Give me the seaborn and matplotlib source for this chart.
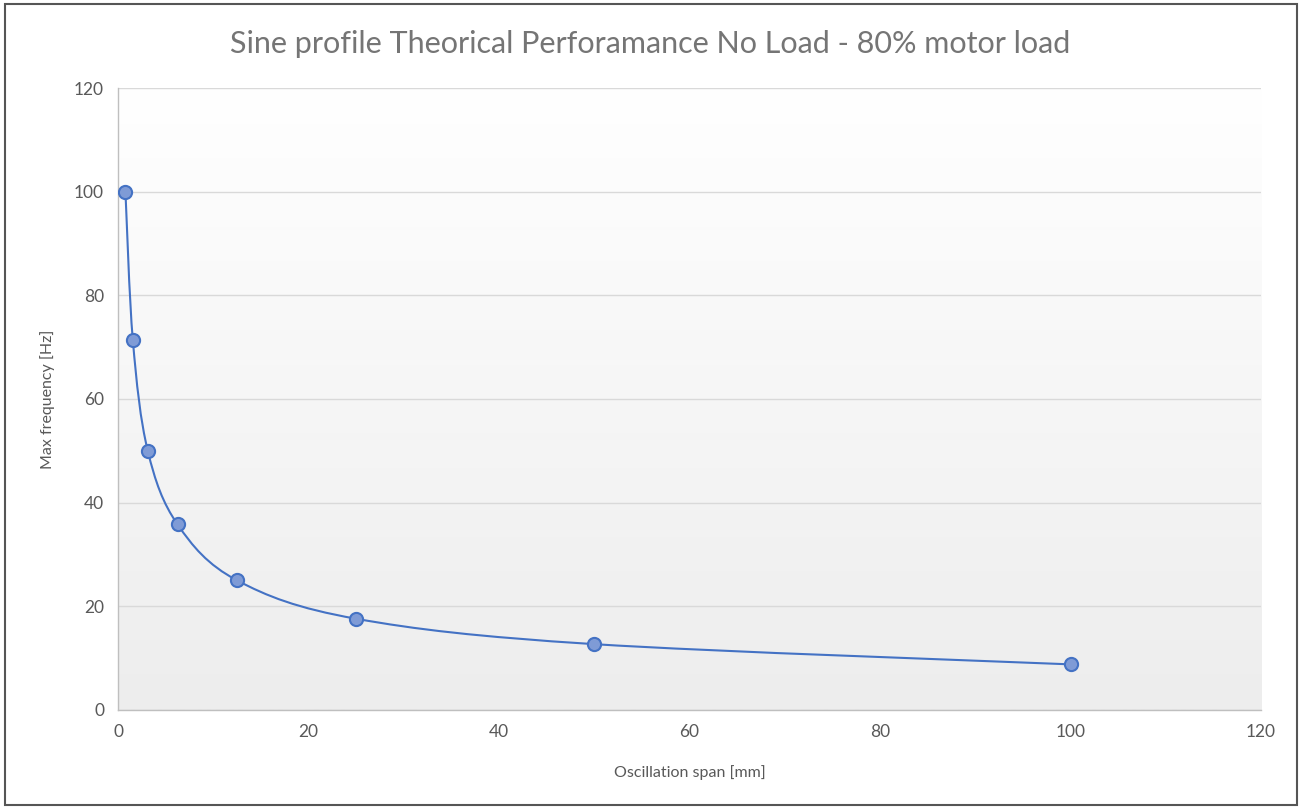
import numpy as np
import pandas as pd
import matplotlib
matplotlib.use("Agg")
import matplotlib.pyplot as plt
from matplotlib.path import Path
from matplotlib.patches import PathPatch, Rectangle
import seaborn as sns

# values
span_mm = [0.78, 1.56, 3.125, 6.25, 12.5, 25, 50, 100]
max_freq_hz = [100, 71.3, 50, 35.8, 25, 17.6, 12.7, 8.8]
xticks = [0, 20, 40, 60, 80, 100, 120]
yticks = [0, 20, 40, 60, 80, 100, 120]

df = pd.DataFrame({"span": span_mm, "freq": max_freq_hz})

sns.set_style("white")
plt.rcParams["font.family"] = ["Lato", "DejaVu Sans"]

blue = "#4472C4"
grey_txt = "#595959"

fig = plt.figure(figsize=(13.01, 8.09), dpi=100)
ax = fig.add_axes([0.0907, 0.1224, 0.8786, 0.7688])

# soft white (top) -> grey (bottom) gradient like the Excel plot area
grad = np.linspace(0, 1, 256).reshape(-1, 1)
ax.imshow(grad, cmap=matplotlib.colors.LinearSegmentedColormap.from_list("g", ["#ffffff", "#ededed"]),
          aspect="auto", extent=[0, 1, 0, 1], transform=ax.transAxes, zorder=0, vmin=0, vmax=1)

# smoothed line (Catmull-Rom as cubic bezier segments, like Excel's smooth line)
pts = df[["span", "freq"]].to_numpy()
verts = [pts[0]]
codes = [Path.MOVETO]
n = len(pts)
for i in range(n - 1):
    p0 = pts[i - 1] if i > 0 else pts[i]
    p1, p2 = pts[i], pts[i + 1]
    p3 = pts[i + 2] if i + 2 < n else pts[i + 1]
    c1 = p1 + (p2 - p0) / 6.0
    c2 = p2 - (p3 - p1) / 6.0
    verts += [c1, c2, p2]
    codes += [Path.CURVE4] * 3
ax.add_patch(PathPatch(Path(verts, codes), facecolor="none", edgecolor=blue, lw=1.5, zorder=3))

sns.scatterplot(data=df, x="span", y="freq", ax=ax, s=90, color="#7f9bd6",
                edgecolor=blue, linewidth=1.5, zorder=4, legend=False)

ax.set_xlim(0, 120)
ax.set_ylim(0, 120)
ax.set_xticks(xticks)
ax.set_yticks(yticks)
ax.grid(axis="y", color="#d9d9d9", lw=1)
ax.set_axisbelow(True)
for s in ["top", "right"]:
    ax.spines[s].set_visible(False)
for s in ["left", "bottom"]:
    ax.spines[s].set_color("#bfbfbf")
    ax.spines[s].set_linewidth(1)
ax.tick_params(length=0, labelsize=12.5, labelcolor=grey_txt, pad=10)
ax.set_xlabel("Oscillation span [mm]", fontsize=11.5, color=grey_txt, labelpad=18)
ax.set_ylabel("Max frequency [Hz]", fontsize=11.5, color=grey_txt, labelpad=14)

fig.text(0.5, 0.945, "Sine profile Theorical Perforamance No Load - 80% motor load",
         ha="center", va="center", fontsize=22, color="#757575")

# outer frame
fig.add_artist(Rectangle((0.004, 0.005), 0.993, 0.99, transform=fig.transFigure,
                         fill=False, edgecolor="#555555", lw=1.5))

fig.savefig("out.png", dpi=100)
